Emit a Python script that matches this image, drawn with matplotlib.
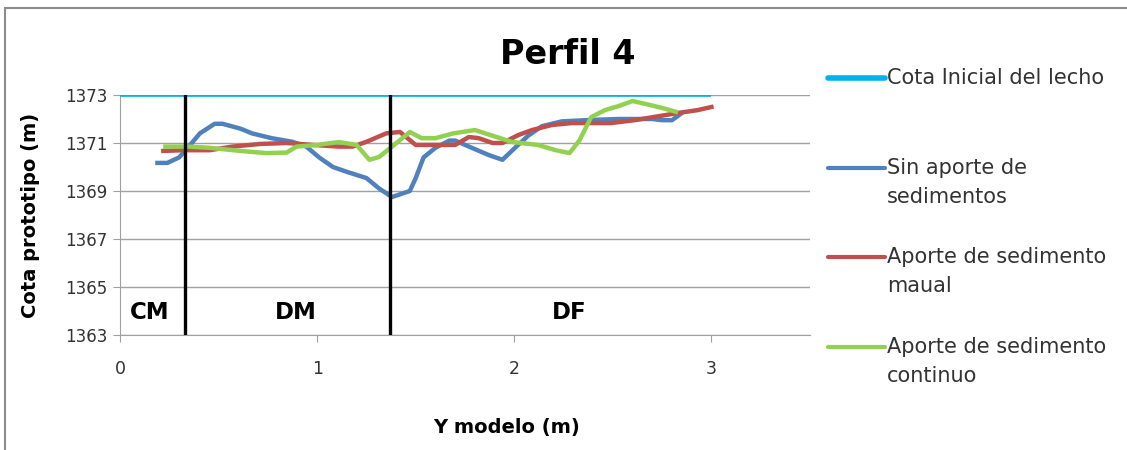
import matplotlib
matplotlib.use("Agg")
import matplotlib.pyplot as plt
from matplotlib.lines import Line2D
from matplotlib.patches import Rectangle

plt.rcParams['font.family'] = ['DejaVu Sans']

# cota inicial del lecho
x_ini = [0.0, 3.0]
y_ini = [1373, 1373]

# sin aporte de sedimentos
x_sin = [0.19, 0.24, 0.30, 0.354, 0.405, 0.48, 0.52, 0.61, 0.67, 0.77, 0.875, 0.945, 1.01, 1.08, 1.15,
         1.25, 1.315, 1.38, 1.47, 1.50, 1.54, 1.60, 1.67, 1.70, 1.77, 1.87, 1.94, 2.01, 2.07, 2.14,
         2.24, 2.36, 2.53, 2.70, 2.75, 2.80, 2.85]
y_sin = [1370.17, 1370.17, 1370.4, 1370.9, 1371.4, 1371.8, 1371.8, 1371.6, 1371.4, 1371.2, 1371.05,
         1370.85, 1370.4, 1370.0, 1369.8, 1369.54, 1369.1, 1368.75, 1369.0, 1369.54, 1370.4, 1370.8,
         1371.1, 1371.1, 1370.85, 1370.5, 1370.3, 1370.85, 1371.3, 1371.7, 1371.9, 1371.95, 1372.0,
         1372.0, 1371.95, 1371.95, 1372.25]

# aporte de sedimento manual
x_man = [0.22, 0.32, 0.455, 0.57, 0.71, 0.845, 0.98, 1.11, 1.18, 1.25, 1.35, 1.42, 1.50, 1.60, 1.70,
         1.77, 1.82, 1.89, 1.94, 2.02, 2.09, 2.19, 2.29, 2.41, 2.49, 2.61, 2.72, 2.83, 2.93, 3.0]
y_man = [1370.67, 1370.7, 1370.7, 1370.85, 1370.96, 1371.0, 1370.92, 1370.85, 1370.85, 1371.05,
         1371.4, 1371.46, 1370.92, 1370.92, 1370.92, 1371.25, 1371.2, 1371.0, 1371.0, 1371.33,
         1371.54, 1371.75, 1371.83, 1371.83, 1371.83, 1371.95, 1372.1, 1372.25, 1372.37, 1372.5]

# aporte de sedimento continuo
x_con = [0.23, 0.35, 0.455, 0.61, 0.74, 0.845, 0.895, 1.0, 1.11, 1.20, 1.265, 1.315, 1.38, 1.47,
         1.53, 1.60, 1.69, 1.80, 1.91, 1.99, 2.12, 2.21, 2.28, 2.33, 2.39, 2.46, 2.53, 2.60, 2.67,
         2.75, 2.82]
y_con = [1370.85, 1370.85, 1370.8, 1370.67, 1370.58, 1370.6, 1370.85, 1370.92, 1371.04, 1370.92,
         1370.3, 1370.42, 1370.85, 1371.46, 1371.2, 1371.2, 1371.4, 1371.54, 1371.25, 1371.04,
         1370.92, 1370.7, 1370.58, 1371.1, 1372.08, 1372.37, 1372.54, 1372.75, 1372.62, 1372.46,
         1372.3]

# limites de zonas
zone_lines = [0.33, 1.37]
zone_names = ["CM", "DM", "DF"]
zone_pos = [0.15, 0.89, 2.28]

labels = ["Cota Inicial del lecho", "Sin aporte de\nsedimentos",
          "Aporte de sedimento\nmaual", "Aporte de sedimento\ncontinuo"]
colors = ["#00B0F0", "#4F81BD", "#C0504D", "#92D050"]

fig = plt.figure(figsize=(11.27, 4.5), dpi=100)
ax = fig.add_axes([120/1127, 1-335/450, 690/1127, 240/450])

ax.plot(x_ini, y_ini, color=colors[0], lw=2.6, solid_capstyle='butt', zorder=3)
ax.plot(x_sin, y_sin, color=colors[1], lw=3.2, zorder=4)
ax.plot(x_man, y_man, color=colors[2], lw=3.2, zorder=4)
ax.plot(x_con, y_con, color=colors[3], lw=3.2, zorder=5)

for xv in zone_lines:
    ax.plot([xv, xv], [1363, 1373], color='black', lw=2.4, zorder=6)
for name, xp in zip(zone_names, zone_pos):
    ax.text(xp, 1363.95, name, ha='center', va='center', fontsize=16.5, fontweight='bold')

ax.set_xlim(0, 3.5)
ax.set_ylim(1363, 1373)
ax.set_xticks([0, 1, 2, 3])
ax.set_yticks([1363, 1365, 1367, 1369, 1371, 1373])
ax.grid(axis='y', color='#A0A0A0', lw=1)
ax.set_axisbelow(True)
for s in ['top', 'right']:
    ax.spines[s].set_visible(False)
for s in ['left', 'bottom']:
    ax.spines[s].set_color('#A0A0A0')
ax.tick_params(axis='x', colors='#A0A0A0', labelcolor='#333333', length=5, labelsize=12.5, pad=13)
ax.tick_params(axis='y', colors='#A0A0A0', labelcolor='#333333', length=5, labelsize=12, pad=4)

ax.set_xlabel("Y modelo (m)", fontsize=14, fontweight='bold')
ax.set_ylabel("Cota prototipo (m)", fontsize=14, fontweight='bold')
ax.xaxis.set_label_coords(387/690, -83/240)
ax.yaxis.set_label_coords(-80/690, 0.5)
fig.text(568/1127, 1-55/450, "Perfil 4", ha='center', va='center', fontsize=24, fontweight='bold')

# leyenda manual
leg_y = [78, 168, 257, 347]
for lab, col, yp in zip(labels, colors, leg_y):
    yf = 1 - yp/450
    fig.add_artist(Line2D([828/1127, 885/1127], [yf, yf], color=col, lw=3 if col != colors[0] else 4,
                          solid_capstyle='round'))
    fig.text(887/1127, yf + 10/450, lab, ha='left', va='top', fontsize=15, color='#333333',
             linespacing=1.58)

# marco del grafico
fig.add_artist(Rectangle((5/1127, -0.1), 1.2, 1 - 8/450 + 0.1, fill=False, edgecolor='#8C8C8C', lw=1.5,
                         transform=fig.transFigure))

fig.savefig("out.png", dpi=100)
